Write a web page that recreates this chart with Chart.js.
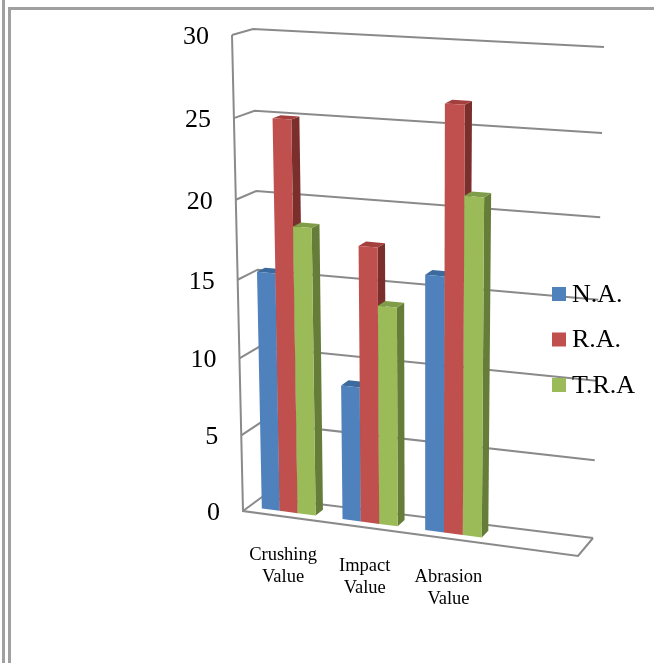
<!DOCTYPE html>
<html>
<head>
<meta charset="utf-8">
<title>Aggregate values</title>
<script src="https://cdn.jsdelivr.net/npm/chart.js@4"></script>
<style>
    html, body { margin: 0; padding: 0; background: #fff; overflow: hidden; }
    #frame { position: absolute; left: 0; top: 0; width: 654px; height: 663px; }
    #frame .line { position: absolute; background: #a0a0a0; }
    canvas { position: absolute; left: 0; top: 0; }
</style>
</head>
<body>
<div id="frame">
    <div class="line" style="left:2px;top:0;width:3px;height:663px"></div>
    <div class="line" style="left:8px;top:7px;width:3px;height:656px"></div>
    <div class="line" style="left:8px;top:7px;width:646px;height:3px"></div>
</div>
<canvas id="chart" width="654" height="663"></canvas>
<script>
// Chart data
const categories = [['Crushing', 'Value'], ['Impact', 'Value'], ['Abrasion', 'Value'], ''];
const naValues = [15.4, 8.7, 16.2, null];
const raValues = [25, 17.6, 26.6, null];
const traValues = [18.45, 14, 21.2, null];
const seriesNames = ['N.A.', 'R.A.', 'T.R.A'];

// Face colours: front, top, side
const faceColors = [
    ['#4f81bd', '#3c6a9f', '#385d8a'],
    ['#c0504d', '#a33f3c', '#7b2f2d'],
    ['#9bbb59', '#7f9c48', '#667d3a']
];

// Corners of the 3D box: bottom-left, bottom-right, top-right, top-left
const frontWall = [[243, 511], [578, 556], [587, 57], [232, 35]];
const backWall = [[262, 497], [593, 538], [604, 47], [253, 29]];
const barDepth = [0.3, 0.7];
const gridColor = '#8a8a8a';
const fontName = '"Liberation Serif", "Times New Roman", serif';

// Unit square to quad mapping
function quadMap(q) {
    const [[x0, y0], [x1, y1], [x2, y2], [x3, y3]] = q;
    const dx1 = x1 - x2, dx2 = x3 - x2, sx = x0 - x1 + x2 - x3;
    const dy1 = y1 - y2, dy2 = y3 - y2, sy = y0 - y1 + y2 - y3;
    const den = dx1 * dy2 - dx2 * dy1;
    const g = (sx * dy2 - dx2 * sy) / den;
    const h = (dx1 * sy - sx * dy1) / den;
    return (u, v) => {
        const w = g * u + h * v + 1;
        return [
            ((x1 - x0 + g * x1) * u + (x3 - x0 + h * x3) * v + x0) / w,
            ((y1 - y0 + g * y1) * u + (y3 - y0 + h * y3) * v + y0) / w
        ];
    };
}

const frontMap = quadMap(frontWall);
const backMap = quadMap(backWall);

function project(u, v, z) {
    const f = frontMap(u, v);
    const b = backMap(u, v);
    return [f[0] + (b[0] - f[0]) * z, f[1] + (b[1] - f[1]) * z];
}

function strokePath(ctx, pts) {
    ctx.beginPath();
    pts.forEach((p, i) => i ? ctx.lineTo(p[0], p[1]) : ctx.moveTo(p[0], p[1]));
    ctx.stroke();
}

function fillFace(ctx, pts, color) {
    ctx.beginPath();
    pts.forEach((p, i) => i ? ctx.lineTo(p[0], p[1]) : ctx.moveTo(p[0], p[1]));
    ctx.closePath();
    ctx.fillStyle = color;
    ctx.fill();
}

// Draws walls, bars and labels in perspective, using the chart's own scales
const perspectivePlugin = {
    id: 'perspective',
    beforeDatasetsDraw(chart) {
        const { ctx, chartArea: area, scales } = chart;
        const yScale = scales.y;
        const toU = x => (x - area.left) / (area.right - area.left);
        const toV = y => (area.bottom - y) / (area.bottom - area.top);

        ctx.save();

        // Grid on the side and back walls
        ctx.strokeStyle = gridColor;
        ctx.lineWidth = 2;
        yScale.ticks.forEach(tick => {
            const v = toV(yScale.getPixelForValue(tick.value));
            strokePath(ctx, [project(0, v, 0), project(0, v, 1), project(1, v, 1)]);
        });
        strokePath(ctx, [project(0, 1, 0), project(0, 0, 0), project(1, 0, 0), project(1, 0, 1)]);

        // Bars, left to right so later ones cover earlier side faces
        const [z0, z1] = barDepth;
        scales.x.getLabels().forEach((_, col) => {
            chart.data.datasets.forEach((ds, s) => {
                if (ds.data[col] == null) return;
                const bar = chart.getDatasetMeta(s).data[col];
                const u0 = toU(bar.x - bar.width / 2);
                const u1 = toU(bar.x + bar.width / 2);
                const vb = toV(bar.base);
                const vt = toV(bar.y);
                const [front, top, side] = faceColors[s];
                fillFace(ctx, [project(u1, vb, z0), project(u1, vb, z1), project(u1, vt, z1), project(u1, vt, z0)], side);
                fillFace(ctx, [project(u0, vt, z0), project(u1, vt, z0), project(u1, vt, z1), project(u0, vt, z1)], top);
                fillFace(ctx, [project(u0, vb, z0), project(u1, vb, z0), project(u1, vt, z0), project(u0, vt, z0)], front);
            });
        });

        // Value labels
        ctx.fillStyle = '#000';
        ctx.font = '26px ' + fontName;
        ctx.textAlign = 'right';
        ctx.textBaseline = 'middle';
        yScale.ticks.forEach(tick => {
            const p = project(0, toV(yScale.getPixelForValue(tick.value)), 0);
            ctx.fillText(String(tick.value), p[0] - 23, p[1] + 2);
        });

        // Category labels
        ctx.font = '18.5px ' + fontName;
        ctx.textAlign = 'center';
        scales.x.getLabels().forEach((label, i) => {
            const p = project(toU(scales.x.getPixelForValue(i)), 0, 0);
            [].concat(label).forEach((line, n) => {
                ctx.fillText(line, p[0], p[1] + 39 + n * 21.5);
            });
        });

        // Legend
        ctx.font = '26px ' + fontName;
        ctx.textAlign = 'left';
        chart.data.datasets.forEach((ds, s) => {
            const y = 287 + s * 45.5;
            ctx.fillStyle = faceColors[s][0];
            ctx.fillRect(552, y, 14, 14);
            ctx.fillStyle = '#000';
            ctx.fillText(ds.label, 572, y + 8);
        });

        ctx.restore();
        return false;
    }
};

new Chart(document.getElementById('chart'), {
    type: 'bar',
    data: {
        labels: categories,
        datasets: [
            { label: seriesNames[0], data: naValues, backgroundColor: faceColors[0][0] },
            { label: seriesNames[1], data: raValues, backgroundColor: faceColors[1][0] },
            { label: seriesNames[2], data: traValues, backgroundColor: faceColors[2][0] }
        ]
    },
    options: {
        responsive: false,
        animation: false,
        categoryPercentage: 0.67,
        barPercentage: 1,
        layout: { padding: 20 },
        scales: {
            x: { display: false },
            y: { display: false, min: 0, max: 30, ticks: { stepSize: 5 } }
        },
        plugins: {
            legend: { display: false },
            tooltip: { enabled: false }
        }
    },
    plugins: [perspectivePlugin]
});
</script>
</body>
</html>
